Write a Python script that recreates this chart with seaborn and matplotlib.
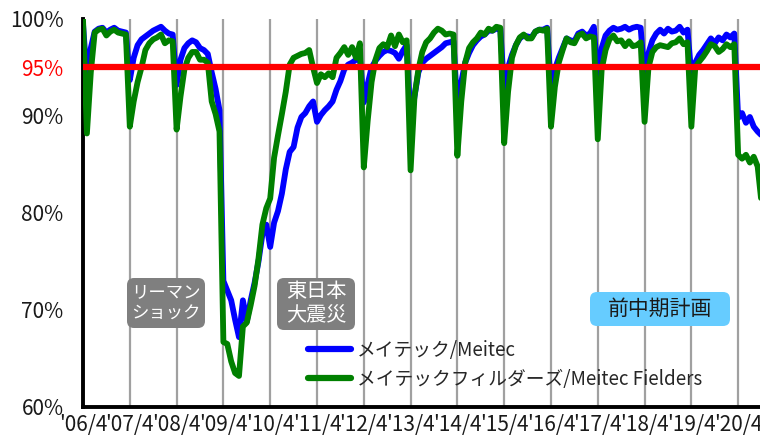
import pandas as pd
import seaborn as sns
import matplotlib.pyplot as plt
from matplotlib.patches import FancyBboxPatch
from matplotlib.transforms import IdentityTransform

# --- DATA: monthly occupancy rate (%), '06/4 .. '20/10, one row per fiscal year (Apr-Mar) ---
meitec = [
    99.5, 93.8, 97.0, 98.7, 99.0, 99.1, 98.6, 98.9, 99.1, 98.8, 98.7, 98.6,  # FY2006
    93.7, 96.0, 97.3, 97.9, 98.2, 98.5, 98.8, 99.0, 99.2, 98.8, 98.5, 98.4,  # FY2007
    93.2, 95.8, 97.0, 97.5, 97.8, 97.6, 97.0, 96.8, 96.4, 94.5, 92.8, 90.6,  # FY2008
    73.0, 72.0, 71.0, 69.0, 67.2, 71.0, 68.8, 71.0, 72.8, 75.0, 77.8, 78.8,  # FY2009
    76.5, 79.0, 80.2, 82.0, 84.5, 86.3, 86.8, 88.8, 89.9, 90.3, 91.0, 91.5,  # FY2010
    89.4, 90.1, 90.6, 91.0, 91.5, 92.7, 93.6, 94.8, 95.3, 95.5, 95.8, 96.0,  # FY2011
    91.4, 93.3, 95.0, 95.7, 96.2, 96.6, 96.8, 96.7, 96.5, 95.9, 96.7, 97.3,  # FY2012
    89.3, 92.0, 94.5, 95.5, 95.9, 96.2, 96.5, 96.8, 97.1, 97.5, 97.6, 97.7,  # FY2013
    90.6, 93.5, 95.5, 96.5, 97.3, 97.8, 98.2, 98.4, 98.8, 98.8, 99.0, 99.0,  # FY2014
    92.7, 95.0, 96.3, 97.3, 98.0, 98.3, 98.2, 98.1, 98.7, 98.9, 98.9, 99.1,  # FY2015
    92.9, 94.8, 96.0, 97.0, 98.0, 97.8, 97.7, 98.5, 98.7, 98.3, 98.5, 99.2,  # FY2016
    93.7, 97.0, 98.3, 98.8, 99.1, 98.9, 99.0, 99.2, 98.9, 99.1, 99.2, 99.1,  # FY2017
    94.0, 96.5, 97.8, 98.5, 98.9, 98.5, 99.0, 98.7, 98.8, 99.2, 98.6, 98.9,  # FY2018
    94.2, 95.5, 96.3, 96.8, 97.4, 98.0, 97.5, 98.1, 97.8, 98.4, 98.1, 98.5,  # FY2019
    89.8, 90.3, 89.3, 89.9, 88.9, 88.4, 88.0,                                # FY2020
]
fielders = [
    100.0, 88.2, 94.5, 98.6, 98.9, 99.0, 98.3, 98.7, 98.9, 98.6, 98.5, 98.4,  # FY2006
    88.9, 91.5, 93.5, 95.0, 96.8, 97.5, 97.9, 98.1, 98.4, 97.5, 97.8, 97.7,   # FY2007
    88.6, 92.0, 94.8, 96.0, 96.6, 96.6, 95.8, 95.8, 95.5, 91.5, 90.2, 88.4,   # FY2008
    66.7, 66.5, 64.7, 63.5, 63.2, 68.3, 68.7, 70.5, 72.5, 75.3, 78.8, 80.5,   # FY2009
    81.5, 85.7, 88.0, 90.2, 92.5, 95.3, 96.0, 96.2, 96.4, 96.5, 96.8, 95.0,   # FY2010
    93.4, 94.3, 94.0, 94.4, 94.0, 96.0, 96.5, 97.1, 96.3, 97.1, 96.0, 97.5,   # FY2011
    84.7, 89.5, 93.5, 95.8, 97.0, 97.4, 97.1, 98.3, 97.2, 98.4, 97.6, 97.8,   # FY2012
    84.4, 92.0, 94.8, 96.6, 97.6, 98.0, 98.6, 99.0, 98.8, 98.4, 98.5, 98.4,   # FY2013
    85.9, 91.5, 95.5, 97.0, 97.6, 98.0, 98.6, 98.4, 99.0, 98.8, 99.2, 99.1,   # FY2014
    87.2, 92.5, 96.0, 97.3, 98.1, 98.4, 98.0, 98.0, 98.7, 98.9, 98.8, 99.0,   # FY2015
    88.9, 93.0, 95.5, 96.8, 98.0, 97.6, 97.5, 98.3, 98.5, 98.0, 98.2, 98.1,   # FY2016
    87.6, 94.8, 96.8, 97.9, 98.3, 97.7, 97.8, 97.2, 97.7, 97.2, 97.3, 97.6,   # FY2017
    89.4, 95.0, 96.6, 97.1, 97.3, 97.2, 97.1, 97.5, 97.6, 98.0, 97.4, 97.6,   # FY2018
    88.9, 95.0, 95.6, 96.1, 96.7, 97.4, 97.2, 96.6, 96.9, 97.4, 97.1, 97.4,   # FY2019
    86.0, 85.6, 86.0, 85.2, 85.8, 84.8, 81.0,                                 # FY2020
]
series_names = ['メイテック/Meitec', 'メイテックフィルダーズ/Meitec Fielders']
x_labels = ["'06/4", "'07/4", "'08/4", "'09/4", "'10/4", "'11/4", "'12/4", "'13/4",
            "'14/4", "'15/4", "'16/4", "'17/4", "'18/4", "'19/4", "'20/4"]
y_ticks = [60, 70, 80, 90, 95, 100]
target = 95

# long-form table for seaborn
df = pd.concat([
    pd.DataFrame({'month': range(len(meitec)), 'rate': meitec, 'series': series_names[0]}),
    pd.DataFrame({'month': range(len(fielders)), 'rate': fielders, 'series': series_names[1]}),
])

# --- STYLE ---
sns.set_style("white")
plt.rcParams['font.family'] = ['Noto Sans CJK JP', 'DejaVu Sans']

fig = plt.figure(figsize=(7.6, 4.41), dpi=100)
ax = fig.add_axes([83 / 760, 34 / 441, 677 / 760, 388 / 441])

sns.lineplot(data=df, x='month', y='rate', hue='series', hue_order=series_names,
             palette=['#0000ff', '#008000'], estimator=None, lw=4.2, ax=ax,
             solid_joinstyle='round', solid_capstyle='round', zorder=3)

# 95% target line
ax.axhline(target, color='#ff0000', lw=4.5, zorder=5)

# axes
ax.set_xlim(0, 173.6)
ax.set_ylim(60, 100)
ax.set_xticks(range(0, 12 * len(x_labels), 12))
ax.set_xticklabels(x_labels, fontsize=15)
ax.set_yticks(y_ticks)
ax.set_yticklabels([f'{v}%' for v in y_ticks], fontsize=15)
ax.get_yticklabels()[y_ticks.index(target)].set_color('#ff0000')
ax.tick_params(axis='x', length=0, pad=5, colors='#1a1a1a')
ax.tick_params(axis='y', length=0, pad=14, colors='#1a1a1a')
ax.get_yticklabels()[y_ticks.index(target)].set_color('#ff0000')
ax.set_xlabel('')
ax.set_ylabel('')
ax.grid(axis='x', color='#a0a0a0', lw=1.6)
ax.grid(axis='y', visible=False)
ax.set_axisbelow(True)
for side in ['top', 'right']:
    ax.spines[side].set_visible(False)
for side in ['left', 'bottom']:
    ax.spines[side].set_color('black')
    ax.spines[side].set_linewidth(2.8)

# legend
handles, labels = ax.get_legend_handles_labels()
leg = ax.legend(handles, labels, loc='upper left', bbox_to_anchor=(308, 441 - 340),
                bbox_transform=IdentityTransform(), frameon=False, fontsize=13.5,
                handlelength=2.3, handletextpad=0.3, labelspacing=0.4,
                borderpad=0, borderaxespad=0)
for line in leg.get_lines():
    line.set_linewidth(4.5)


# --- ANNOTATION BOXES (pixel positions, origin top-left) ---
def note(x0, y0, w, h, text, fc, tc, size):
    box = FancyBboxPatch((x0, 441 - y0 - h), w, h, boxstyle='round,pad=0,rounding_size=7',
                         fc=fc, ec='none', transform=IdentityTransform(), zorder=6)
    fig.add_artist(box)
    fig.text(x0 + w / 2, 441 - y0 - h / 2, text, transform=IdentityTransform(),
             ha='center', va='center', color=tc, fontsize=size, linespacing=1.2, zorder=7)


note(127, 278, 78, 50, 'リーマン\nショック', '#7f7f7f', 'white', 12.5)
note(277, 278, 78, 52, '東日本\n大震災', '#7f7f7f', 'white', 14.5)
note(590, 292, 140, 34, '前中期計画', '#66ccff', '#1a1a1a', 15)

fig.savefig('out.png', dpi=100)
